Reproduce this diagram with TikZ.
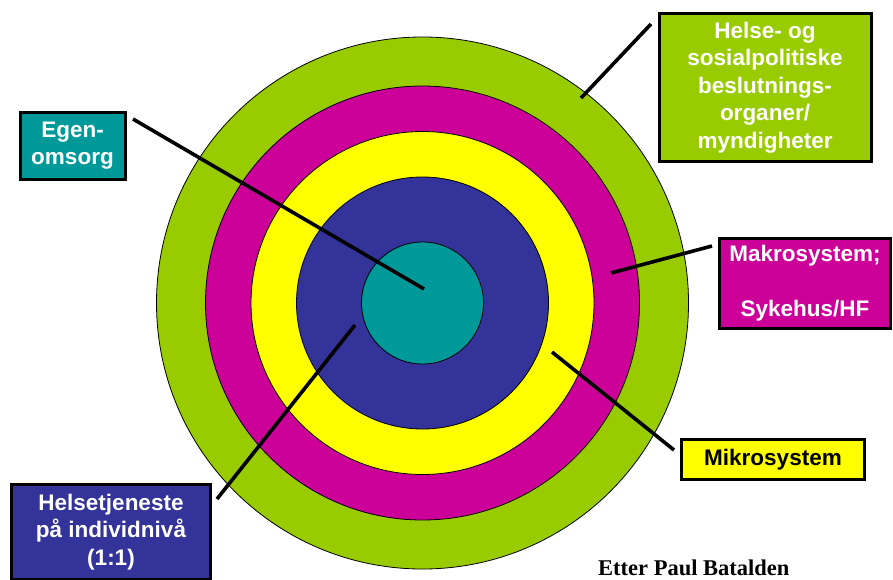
\documentclass[tikz,border=0pt]{standalone}
\usepackage{fontspec}
\setmainfont{Liberation Sans}
\newfontfamily\creditfont{Liberation Serif}
\definecolor{ringgreen}{HTML}{99CC00}
\definecolor{ringmagenta}{HTML}{CC0099}
\definecolor{ringyellow}{HTML}{FFFF00}
\definecolor{ringblue}{HTML}{333399}
\definecolor{ringteal}{HTML}{009999}

\begin{document}
\begin{tikzpicture}[x=1pt,y=-1pt,
  ring/.style={draw=black,line width=0.8pt},
  labelbox/.style={draw=black,line width=3pt,inner sep=0pt,align=center,text=white,
    font=\fontsize{22.5}{27.5}\selectfont\bfseries},
  pointer/.style={draw=black,line width=3.6pt}]
  \useasboundingbox (0,0) rectangle (893,579);
  \clip (0,0) rectangle (893,579);
  \coordinate (c) at (422.5,303);
  \filldraw[ring,fill=ringgreen] (c) circle (266);
  \filldraw[ring,fill=ringmagenta] (c) circle (217);
  \filldraw[ring,fill=ringyellow] (c) circle (171.5);
  \filldraw[ring,fill=ringblue] (c) circle (126);
  \filldraw[ring,fill=ringteal] (c) circle (61);

  \node[labelbox,fill=ringteal,minimum width=105,minimum height=67] (egen) at (72.5,145.7) {Egen-\\omsorg};
  \node[labelbox,fill=ringgreen,minimum width=212,minimum height=148] (helse) at (765,87.7) {Helse- og\\sosialpolitiske\\beslutnings-\\organer/\\myndigheter};
  \node[labelbox,fill=ringmagenta,minimum width=171,minimum height=90] (makro) at (805,283.5) {Makrosystem;\\[27.5pt]Sykehus/HF};
  \node[labelbox,fill=ringyellow,text=black,minimum width=183,minimum height=40] (mikro) at (773,459.5) {Mikrosystem};
  \node[labelbox,fill=ringblue,minimum width=199,minimum height=95] (individ) at (111,532) {Helsetjeneste\\på individnivå\\(1:1)};
  \node[font=\creditfont\fontsize{22.5}{27}\selectfont\bfseries,anchor=base west,inner sep=0pt] (credit) at (598,575) {Etter Paul Batalden};

  \coordinate (egen-end) at (133,119);    \coordinate (egen-tip) at (424,289);
  \coordinate (helse-end) at (651,24);    \coordinate (helse-tip) at (581,98);
  \coordinate (makro-end) at (712,246);   \coordinate (makro-tip) at (611,273);
  \coordinate (mikro-end) at (674,450);   \coordinate (mikro-tip) at (552,352);
  \coordinate (individ-end) at (217,499); \coordinate (individ-tip) at (355,325);
  \draw[pointer] (egen-end) -- (egen-tip);
  \draw[pointer] (helse-end) -- (helse-tip);
  \draw[pointer] (makro-end) -- (makro-tip);
  \draw[pointer] (mikro-end) -- (mikro-tip);
  \draw[pointer] (individ-end) -- (individ-tip);
\end{tikzpicture}
\end{document}
